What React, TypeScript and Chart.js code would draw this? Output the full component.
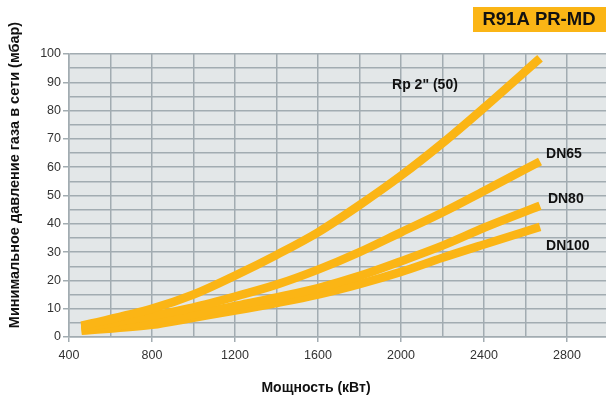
import React, { useEffect, useRef } from "react";
import { Chart, registerables } from "chart.js";

Chart.register(...registerables);

const powerKW = [460, 800, 1000, 1200, 1400, 1600, 1800, 2000, 2200, 2400, 2670];
const rp2 = [4, 10, 15, 21.7, 29, 37, 46.6, 57, 68.5, 81, 98.5];
const dn65 = [3.2, 7.5, 10.5, 14.3, 18.5, 23.8, 30, 37, 44, 51.6, 62];
const dn80 = [2.6, 5.5, 8, 11, 14, 17.3, 21.6, 26.8, 32.3, 38.6, 46.4];
const dn100 = [2.2, 4.3, 6.8, 9.3, 12, 15, 18.7, 23, 28, 32.7, 38.9];
const seriesNames = ['Rp 2" (50)', "DN65", "DN80", "DN100"];
const seriesValues = [rp2, dn65, dn80, dn100];
const xTickValues = [400, 600, 800, 1000, 1200, 1400, 1600, 1800, 2000, 2200, 2400, 2600, 2800];
const xLabelValues = [400, 800, 1200, 1600, 2000, 2400, 2800];
const yTickValues = [0, 5, 10, 15, 20, 25, 30, 35, 40, 45, 50, 55, 60, 65, 70, 75, 80, 85, 90, 95, 100];
const yLabelValues = [0, 10, 20, 30, 40, 50, 60, 70, 80, 90, 100];
const labelAnchors = [
  { x: 1957, y: 89 },
  { x: 2699, y: 64.7 },
  { x: 2708, y: 48.8 },
  { x: 2699, y: 32.2 },
];
const titleText = "R91A PR-MD";
const yTitle = "Минимальное давление газа в сети (мбар)";
const xTitle = "Мощность (кВт)";

const ORANGE = "#FBB515";
const GRID = "#A2ACB1";
const FONT = "'Liberation Sans', Arial, sans-serif";

const decorPlugin = {
  id: "decor",
  beforeDraw(chart: any) {
    const { ctx, chartArea } = chart;
    ctx.save();
    ctx.fillStyle = "#E3E7E8";
    ctx.fillRect(chartArea.left, chartArea.top, chartArea.right - chartArea.left, chartArea.bottom - chartArea.top);
    ctx.restore();
  },
  afterDraw(chart: any) {
    const { ctx } = chart;
    const xs = chart.scales.x;
    const ys = chart.scales.y;
    ctx.save();
    ctx.fillStyle = ORANGE;
    ctx.fillRect(473, 7, 133, 25);
    ctx.fillStyle = "#111";
    ctx.font = `bold 18.5px ${FONT}`;
    ctx.textAlign = "center";
    ctx.textBaseline = "middle";
    ctx.fillText(titleText, 539, 20);
    ctx.save();
    ctx.translate(15, 175);
    ctx.rotate(-Math.PI / 2);
    ctx.font = `bold 14.5px ${FONT}`;
    ctx.fillText(yTitle, 0, 0);
    ctx.restore();
    ctx.font = `bold 14px ${FONT}`;
    ctx.fillText(xTitle, 316, 388);
    ctx.font = `bold 14px ${FONT}`;
    ctx.textAlign = "left";
    labelAnchors.forEach((p, i) => {
      ctx.fillText(seriesNames[i], xs.getPixelForValue(p.x), ys.getPixelForValue(p.y));
    });
    ctx.restore();
  },
};

export default function App() {
  const ref = useRef<HTMLCanvasElement>(null);
  useEffect(() => {
    if (!ref.current) return;
    const chart = new Chart(ref.current, {
      type: "line",
      data: {
        datasets: seriesValues.map((vals, i) => ({
          label: seriesNames[i],
          data: powerKW.map((x, j) => ({ x, y: vals[j] })),
          borderColor: ORANGE,
          backgroundColor: ORANGE,
          borderWidth: 8.5,
          pointRadius: 0,
          cubicInterpolationMode: "monotone" as const,
          borderCapStyle: "butt" as const,
        })),
      },
      options: {
        animation: false,
        responsive: false,
        devicePixelRatio: 1,
        layout: { padding: { top: 54, right: 0, left: 0, bottom: 0 } },
        plugins: { legend: { display: false }, tooltip: { enabled: false } },
        scales: {
          x: {
            type: "linear",
            min: 400,
            max: 2988,
            afterBuildTicks: (s: any) => {
              s.ticks = xTickValues.map((v) => ({ value: v }));
            },
            afterFit: (s: any) => {
              s.height = 64;
              s.paddingLeft = 0;
              s.paddingRight = 0;
            },
            border: { display: true, color: GRID, width: 1.5 },
            grid: {
              color: GRID,
              lineWidth: 1.5,
              tickLength: 5,
              tickColor: (c: any) => (c.tick && xLabelValues.includes(c.tick.value) ? GRID : "rgba(0,0,0,0)"),
            },
            ticks: {
              autoSkip: false,
              maxRotation: 0,
              padding: 6,
              color: "#333",
              font: { family: FONT, size: 12.5 },
              callback: (v: any) => (xLabelValues.includes(Number(v)) ? String(v) : ""),
            },
          },
          y: {
            min: 0,
            max: 100,
            afterBuildTicks: (s: any) => {
              s.ticks = yTickValues.map((v) => ({ value: v }));
            },
            afterFit: (s: any) => {
              s.width = 69;
              s.paddingTop = 0;
              s.paddingBottom = 0;
            },
            border: { display: true, color: GRID, width: 1.5 },
            grid: {
              color: GRID,
              lineWidth: 1.5,
              tickLength: 6,
              tickColor: (c: any) => (c.tick && yLabelValues.includes(c.tick.value) ? GRID : "rgba(0,0,0,0)"),
            },
            ticks: {
              autoSkip: false,
              padding: 2,
              color: "#333",
              font: { family: FONT, size: 12.5 },
              callback: (v: any) => (yLabelValues.includes(Number(v)) ? String(v) : ""),
            },
          },
        },
      },
      plugins: [decorPlugin],
    } as any);
    return () => chart.destroy();
  }, []);
  return (
    <div style={{ position: "fixed", left: 0, top: 0, width: 606, height: 401, background: "#fff" }}>
      <canvas ref={ref} width={606} height={401} style={{ width: 606, height: 401, display: "block" }} />
    </div>
  );
}
